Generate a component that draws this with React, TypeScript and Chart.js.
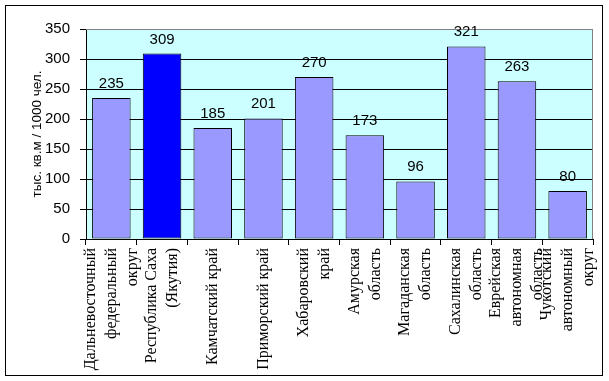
import React, { useEffect, useRef } from 'react';
import { Chart, registerables } from 'chart.js';

Chart.register(...registerables);

const categories: string[][] = [
  ['Дальневосточный', 'федеральный', 'округ'],
  ['Республика Саха', '(Якутия)'],
  ['Камчатский край'],
  ['Приморский край'],
  ['Хабаровский', 'край'],
  ['Амурская', 'область'],
  ['Магаданская', 'область'],
  ['Сахалинская', 'область'],
  ['Еврейская', 'автономная', 'область'],
  ['Чукотский', 'автономный', 'округ'],
];
const values: number[] = [235, 309, 185, 201, 270, 173, 96, 321, 263, 80];
const highlightIndex = 1;
const yMin = 0;
const yMax = 350;
const yStep = 50;
const yTitle = 'тыс. кв.м / 1000 чел.';

const LH = 10.5;

// place lines into 5 half-spaced slots so every label is centred on its tick
function toSlots(lines: string[]): string[] {
  if (lines.length === 3) return [lines[0], '', lines[1], '', lines[2]];
  if (lines.length === 2) return ['', lines[0], '', lines[1], ''];
  return ['', '', lines[0], '', ''];
}

const framePlugin = {
  id: 'frame',
  beforeDraw(chart: any) {
    const { ctx, chartArea: a } = chart;
    ctx.save();
    ctx.fillStyle = '#ffffff';
    ctx.fillRect(0, 0, chart.width, chart.height);
    ctx.fillStyle = '#CCFFFF';
    ctx.fillRect(a.left, a.top, a.right - a.left, a.bottom - a.top);
    ctx.strokeStyle = '#000000';
    ctx.lineWidth = 1;
    ctx.strokeRect(5.5, 5.5, 597, 370);
    ctx.restore();
  },
  beforeDatasetsDraw(chart: any) {
    const { ctx, chartArea: a } = chart;
    ctx.save();
    ctx.strokeStyle = '#808080';
    ctx.lineWidth = 1;
    ctx.beginPath();
    ctx.moveTo(a.left, a.top + 0.5);
    ctx.lineTo(a.right - 0.5, a.top + 0.5);
    ctx.lineTo(a.right - 0.5, a.bottom);
    ctx.stroke();
    ctx.restore();
  },
  afterDatasetsDraw(chart: any) {
    const { ctx } = chart;
    const meta = chart.getDatasetMeta(0);
    ctx.save();
    ctx.fillStyle = '#000000';
    ctx.font = '15px "Liberation Sans", Arial, sans-serif';
    ctx.textAlign = 'center';
    ctx.textBaseline = 'alphabetic';
    meta.data.forEach((bar: any, i: number) => {
      ctx.fillText(String(values[i]), bar.x, bar.y - 10);
    });
    ctx.restore();
  },
};

export default function App() {
  const ref = useRef<HTMLCanvasElement>(null);
  useEffect(() => {
    document.body.style.margin = '0';
    const canvas = ref.current!;
    const chart = new Chart(canvas, {
      type: 'bar',
      data: {
        labels: categories.map(toSlots),
        datasets: [
          {
            data: values,
            backgroundColor: values.map((_, i) => (i === highlightIndex ? '#0000FF' : '#9999FF')),
            borderColor: '#000000',
            borderWidth: 1,
            borderSkipped: false,
            barPercentage: 0.76,
            categoryPercentage: 1,
          },
        ],
      },
      options: {
        responsive: false,
        animation: false,
        layout: { padding: { left: 8, top: 29, right: 16, bottom: 0 } },
        plugins: { legend: { display: false }, tooltip: { enabled: false } },
        scales: {
          x: {
            afterFit(scale: any) {
              scale.height = 142;
              scale.paddingLeft = 0;
              scale.paddingRight = 0;
            },
            grid: {
              display: true,
              drawOnChartArea: false,
              drawTicks: true,
              tickLength: 6,
              color: '#000000',
              tickColor: '#000000',
              offset: true,
            },
            border: { color: '#000000', width: 1 },
            ticks: {
              autoSkip: false,
              minRotation: 90,
              maxRotation: 90,
              padding: 3,
              labelOffset: -2 * LH,
              color: '#000000',
              font: { family: '"Liberation Serif", "Times New Roman", serif', size: 16, lineHeight: LH + 'px' },
            },
          },
          y: {
            min: yMin,
            max: yMax,
            afterFit(scale: any) {
              scale.width = 78;
            },
            grid: {
              drawTicks: true,
              tickLength: 6,
              color: (c: any) => (c.tick && c.tick.value === yMax ? '#808080' : '#000000'),
              tickColor: '#000000',
            },
            border: { color: '#000000', width: 1 },
            ticks: {
              stepSize: yStep,
              padding: 10,
              color: '#000000',
              font: { family: '"Liberation Sans", Arial, sans-serif', size: 15 },
            },
            title: {
              display: true,
              text: yTitle,
              color: '#000000',
              padding: { top: 21, bottom: 0 },
              font: { family: '"Liberation Sans", Arial, sans-serif', size: 13.5 },
            },
          },
        },
      },
      plugins: [framePlugin],
    });
    return () => chart.destroy();
  }, []);
  return <canvas ref={ref} width={609} height={381} style={{ display: 'block' }} />;
}
